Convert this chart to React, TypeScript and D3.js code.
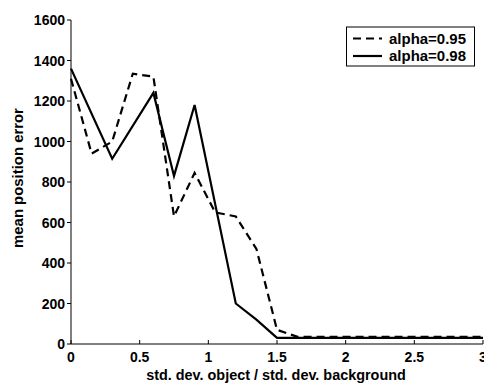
import * as d3 from "d3";
import { useEffect, useRef } from "react";

// alpha = 0.95 (dashed)
const dashedX = [0, 0.15, 0.3, 0.45, 0.6, 0.75, 0.9, 1.05, 1.2, 1.35, 1.5, 1.65, 3];
const dashedY = [1310, 940, 1000, 1335, 1320, 630, 845, 650, 630, 470, 70, 35, 35];

// alpha = 0.98 (solid)
const solidX = [0, 0.3, 0.6, 0.75, 0.9, 1.2, 1.35, 1.5, 3];
const solidY = [1360, 915, 1240, 830, 1180, 200, 120, 30, 30];

const xTicks = [0, 0.5, 1, 1.5, 2, 2.5, 3];
const xTickLabels = ["0", "0.5", "1", "1.5", "2", "2.5", "3"];
const yTicks = [0, 200, 400, 600, 800, 1000, 1200, 1400, 1600];

const legendLabels = ["alpha=0.95", "alpha=0.98"];

const W = 484;
const H = 383;
const FONT = "'Liberation Sans', Arial, sans-serif";

// shrink/grow a text's font size so it spans roughly the given width
function fitText(sel: d3.Selection<SVGTextElement, unknown, null, undefined>, width: number) {
  const node = sel.node();
  if (!node) return;
  const len = node.getComputedTextLength();
  const fs = parseFloat(sel.attr("font-size"));
  if (len > 0) sel.attr("font-size", (fs * width) / len);
}

export default function App() {
  const ref = useRef<SVGSVGElement | null>(null);

  useEffect(() => {
    const svg = d3.select(ref.current);
    svg.selectAll("*").remove();

    const x = d3.scaleLinear().domain([0, 3]).range([71, 483]);
    const y = d3.scaleLinear().domain([0, 1600]).range([344, 20]);

    svg.append("rect").attr("width", W).attr("height", H).attr("fill", "#fff");

    // y axis, ticks pointing outward
    const yAxis = svg.append("g").attr("transform", `translate(${x(0)},0)`);
    yAxis.append("line").attr("y1", y(0)).attr("y2", y(1600)).attr("stroke", "#000");
    yAxis
      .selectAll("g")
      .data(yTicks)
      .enter()
      .append("g")
      .each(function (d) {
        const g = d3.select(this);
        g.append("line")
          .attr("x1", -4)
          .attr("x2", 0)
          .attr("y1", y(d))
          .attr("y2", y(d))
          .attr("stroke", "#000");
        g.append("text")
          .attr("x", -6)
          .attr("y", y(d))
          .attr("dy", "0.36em")
          .attr("text-anchor", "end")
          .attr("font-family", FONT)
          .attr("font-weight", "bold")
          .attr("font-size", 14)
          .text(d);
      });

    // x axis, ticks pointing inward
    const xAxis = svg.append("g").attr("transform", `translate(0,${y(0)})`);
    xAxis.append("line").attr("x1", x(0)).attr("x2", x(3)).attr("stroke", "#000");
    xAxis
      .selectAll("g")
      .data(xTicks)
      .enter()
      .append("g")
      .each(function (d, i) {
        const g = d3.select(this);
        g.append("line")
          .attr("x1", x(d))
          .attr("x2", x(d))
          .attr("y1", 0)
          .attr("y2", -4)
          .attr("stroke", "#000");
        g.append("text")
          .attr("x", x(d))
          .attr("y", 18)
          .attr("text-anchor", "middle")
          .attr("font-family", FONT)
          .attr("font-weight", "bold")
          .attr("font-size", 14)
          .text(xTickLabels[i]);
      });

    const xLabel = svg
      .append("text")
      .attr("x", 276)
      .attr("y", 380)
      .attr("text-anchor", "middle")
      .attr("font-family", FONT)
      .attr("font-weight", "bold")
      .attr("font-size", 13)
      .text("std. dev. object / std. dev. background");
    fitText(xLabel, 260);

    const yLabel = svg
      .append("text")
      .attr("transform", `translate(23,178) rotate(-90)`)
      .attr("text-anchor", "middle")
      .attr("font-family", FONT)
      .attr("font-weight", "bold")
      .attr("font-size", 13)
      .text("mean position error");
    fitText(yLabel, 140);

    const line = d3
      .line<[number, number]>()
      .x(d => x(d[0]))
      .y(d => y(d[1]));

    svg
      .append("path")
      .attr("d", line(dashedX.map((v, i) => [v, dashedY[i]]) as [number, number][]))
      .attr("fill", "none")
      .attr("stroke", "#000")
      .attr("stroke-width", 2.2)
      .attr("stroke-dasharray", "8,5");

    svg
      .append("path")
      .attr("d", line(solidX.map((v, i) => [v, solidY[i]]) as [number, number][]))
      .attr("fill", "none")
      .attr("stroke", "#000")
      .attr("stroke-width", 2.2);

    // legend
    const lg = svg.append("g");
    lg.append("rect")
      .attr("x", 346.5)
      .attr("y", 27)
      .attr("width", 128)
      .attr("height", 39)
      .attr("fill", "#fff")
      .attr("stroke", "#000");
    legendLabels.forEach((label, i) => {
      const ly = 38.5 + i * 17.5;
      lg.append("line")
        .attr("x1", 353)
        .attr("x2", 382)
        .attr("y1", ly)
        .attr("y2", ly)
        .attr("stroke", "#000")
        .attr("stroke-width", 2.2)
        .attr("stroke-dasharray", i === 0 ? "8,5" : null);
      const t = lg
        .append("text")
        .attr("x", 389)
        .attr("y", ly)
        .attr("dy", "0.36em")
        .attr("font-family", FONT)
        .attr("font-weight", "bold")
        .attr("font-size", 13)
        .text(label);
      fitText(t, 77);
    });
  }, []);

  return (
    <svg
      ref={ref}
      width={W}
      height={H}
      style={{ position: "absolute", left: 0, top: 0 }}
    />
  );
}
